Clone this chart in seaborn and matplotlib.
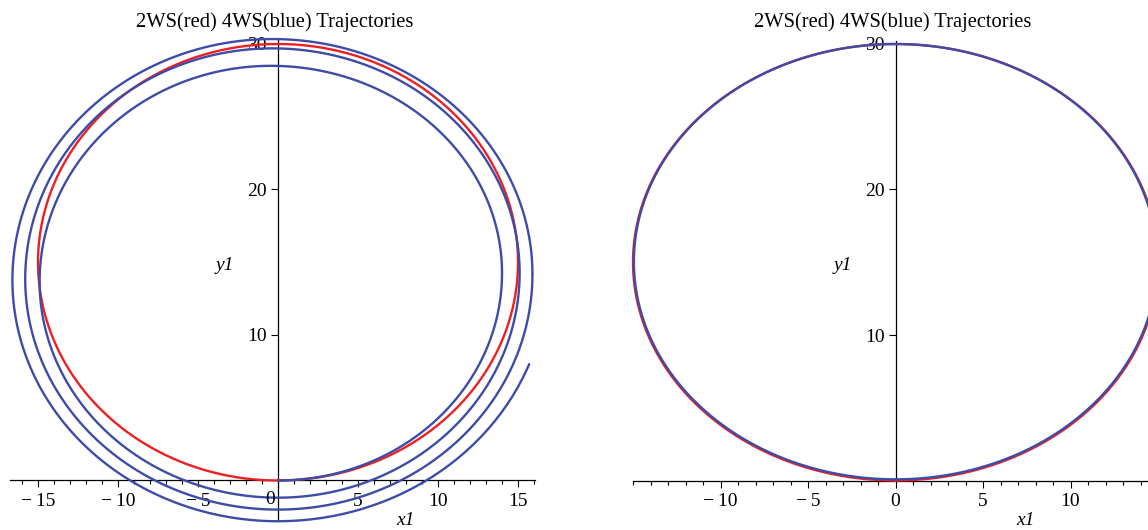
import numpy as np
import pandas as pd
import matplotlib
matplotlib.use("Agg")
import matplotlib.pyplot as plt
from matplotlib.ticker import MultipleLocator
import seaborn as sns

# ---------------- data ----------------
title_text = "2WS(red) 4WS(blue) Trajectories"

# Left panel: 2WS (red) circle
red_left_center = [0.0, 15.0]
red_left_radius = 15.0

# Left panel: 4WS (blue) spiral - extreme points of each lap
blue_bottom_y = [0.0, -1.18, -2.0, -2.8]     # crossings of x = 0 at the bottom
blue_right_x = [14.0, 15.1, 15.9]            # right-most x of laps 1..3
blue_top_y = [28.5, 29.7, 30.34]             # top y of laps 1..3
blue_left_x = [-14.9, -15.8, -16.6]          # left-most x of laps 1..3
blue_end_xy = [15.7, 8.0]                    # where the spiral stops

# Right panel: nearly coincident circles
red_right_center = [0.0, 15.0]
red_right_radius = 15.0
blue_right_center = [0.0, 15.04]
blue_right_radii = [14.95, 14.96]

x_ticks_left = [-15, -10, -5, 0, 5, 10, 15]
x_ticks_right = [-10, -5, 0, 5, 10]
y_ticks = [10, 20, 30]

RED = "#ee1f23"
BLUE = "#3d4ca8"
FONT = ["Liberation Serif", "DejaVu Serif"]


# ---------------- curve construction ----------------
def circle(center, rx, ry, n=400):
    s = np.linspace(0, 2 * np.pi, n)
    return center[0] + rx * np.sin(s), center[1] - ry * np.cos(s)


def quarter(p0, p1, start_horizontal, n=60):
    s = np.linspace(0, np.pi / 2, n)
    if start_horizontal:
        x = p0[0] + (p1[0] - p0[0]) * np.sin(s)
        y = p1[1] - (p1[1] - p0[1]) * np.cos(s)
    else:
        x = p1[0] - (p1[0] - p0[0]) * np.cos(s)
        y = p0[1] + (p1[1] - p0[1]) * np.sin(s)
    return x, y


def spiral():
    pts = [(0.0, blue_bottom_y[0])]
    right_ys = []
    for i in range(3):
        ry = (blue_bottom_y[i] + blue_top_y[i]) / 2
        right_ys.append(ry)
        pts.append((blue_right_x[i], ry))
        pts.append(((blue_right_x[i] + blue_left_x[i]) / 2, blue_top_y[i]))
        pts.append((blue_left_x[i], (blue_top_y[i] + blue_bottom_y[i + 1]) / 2))
        pts.append((0.0, blue_bottom_y[i + 1]))
    xs, ys = [], []
    for k in range(len(pts) - 1):
        x, y = quarter(pts[k], pts[k + 1], k % 2 == 0)
        xs.append(x)
        ys.append(y)
    # final partial arc up to the end point
    xb, yb = pts[-1]
    yr = float(np.mean(right_ys))
    ex, ey = blue_end_xy
    s_end = np.arccos((yr - ey) / (yr - yb))
    amp = (ex - xb) / np.sin(s_end)
    s = np.linspace(0, s_end, 60)
    xs.append(xb + amp * np.sin(s))
    ys.append(yr - (yr - yb) * np.cos(s))
    return np.concatenate(xs), np.concatenate(ys)


# ---------------- figure ----------------
sns.set_theme(style="white")
plt.rcParams["font.family"] = FONT
plt.rcParams["axes.unicode_minus"] = True

W, H = 1148, 530
fig = plt.figure(figsize=(W / 100, H / 100), dpi=100)

# axes placed in pixel geometry
ax1 = fig.add_axes([10 / W, (H - 521.24) / H, 525 / W, (521.24 - 39.05) / H])
ax2 = fig.add_axes([633 / W, (H - 480.5) / H, 525 / W, (30.2 * 14.55) / H])

lw = 1.7
rx, ry = circle(red_left_center, red_left_radius, red_left_radius)
sns.lineplot(x=rx, y=ry, sort=False, estimator=None, color=RED, lw=lw, ax=ax1)
bx, by = spiral()
sns.lineplot(x=bx, y=by, sort=False, estimator=None, color=BLUE, lw=lw, ax=ax1)

rx2, ry2 = circle(red_right_center, red_right_radius, red_right_radius)
sns.lineplot(x=rx2, y=ry2, sort=False, estimator=None, color=RED, lw=lw, ax=ax2)
bx2, by2 = circle(blue_right_center, blue_right_radii[0], blue_right_radii[1])
sns.lineplot(x=bx2, y=by2, sort=False, estimator=None, color=BLUE, lw=lw, ax=ax2)

ax1.set_xlim(-16.75, 16.06)
ax1.set_ylim(-2.8, 30.34)
ax2.set_xlim(-15, 15)
ax2.set_ylim(0, 30.2)

for ax, xt in ((ax1, x_ticks_left), (ax2, x_ticks_right)):
    ax.set_facecolor("none")
    for ln in ax.lines:
        ln.set_clip_on(False)
    ax.spines["left"].set_position(("data", 0))
    ax.spines["bottom"].set_position(("data", 0))
    ax.spines["top"].set_visible(False)
    ax.spines["right"].set_visible(False)
    for sp in ("left", "bottom"):
        ax.spines[sp].set_color("black")
        ax.spines[sp].set_linewidth(0.9)
        ax.spines[sp].set_zorder(0.5)
    ax.set_xticks(xt)
    labels = [("\u2212\u2009" + str(abs(v))) if v < 0 else str(v) for v in xt]
    ax.set_xticklabels(labels)
    ax.xaxis.set_minor_locator(MultipleLocator(1))
    ax.set_yticks(y_ticks)
    ax.set_yticklabels([str(v) for v in y_ticks])
    ax.tick_params(axis="x", which="major", direction="out", length=5, width=0.8,
                   color="black", pad=4, labelsize=14, labelcolor="black",
                   bottom=True)
    ax.tick_params(axis="x", which="minor", direction="out", length=3, width=0.8,
                   color="black", bottom=True)
    ax.tick_params(axis="y", which="major", direction="out", length=5, width=0.8,
                   color="black", pad=3, labelsize=14, labelcolor="black", left=True)
    ax.set_xlabel("")
    ax.set_ylabel("")
    ax.grid(False)

# the '0' label of the left panel sits just left of the vertical axis
lbls = ax1.get_xticklabels()
ax1.set_xticklabels(["" if t.get_text() == "0" else t.get_text() for t in lbls])
ax1.annotate("0", xy=(0, 0), xycoords="data", xytext=(-8, -11),
             textcoords="offset pixels", ha="center", va="top", fontsize=14,
             family=FONT, color="black")

# titles and axis names
for cx in (275, 893):
    fig.text(cx / W, 1 - 27.5 / H, title_text, ha="center", va="baseline",
             fontsize=14.8, family=FONT, color="black")
for cx in (225, 843):
    fig.text(cx / W, 1 - 265 / H, "y1", ha="center", va="center",
             fontsize=14, style="italic", family=FONT, color="black")
for cx in (405, 1025):
    fig.text(cx / W, 1 - 529 / H, "x1", ha="center", va="bottom",
             fontsize=14, style="italic", family=FONT, color="black")

fig.savefig("out.png", dpi=100)
